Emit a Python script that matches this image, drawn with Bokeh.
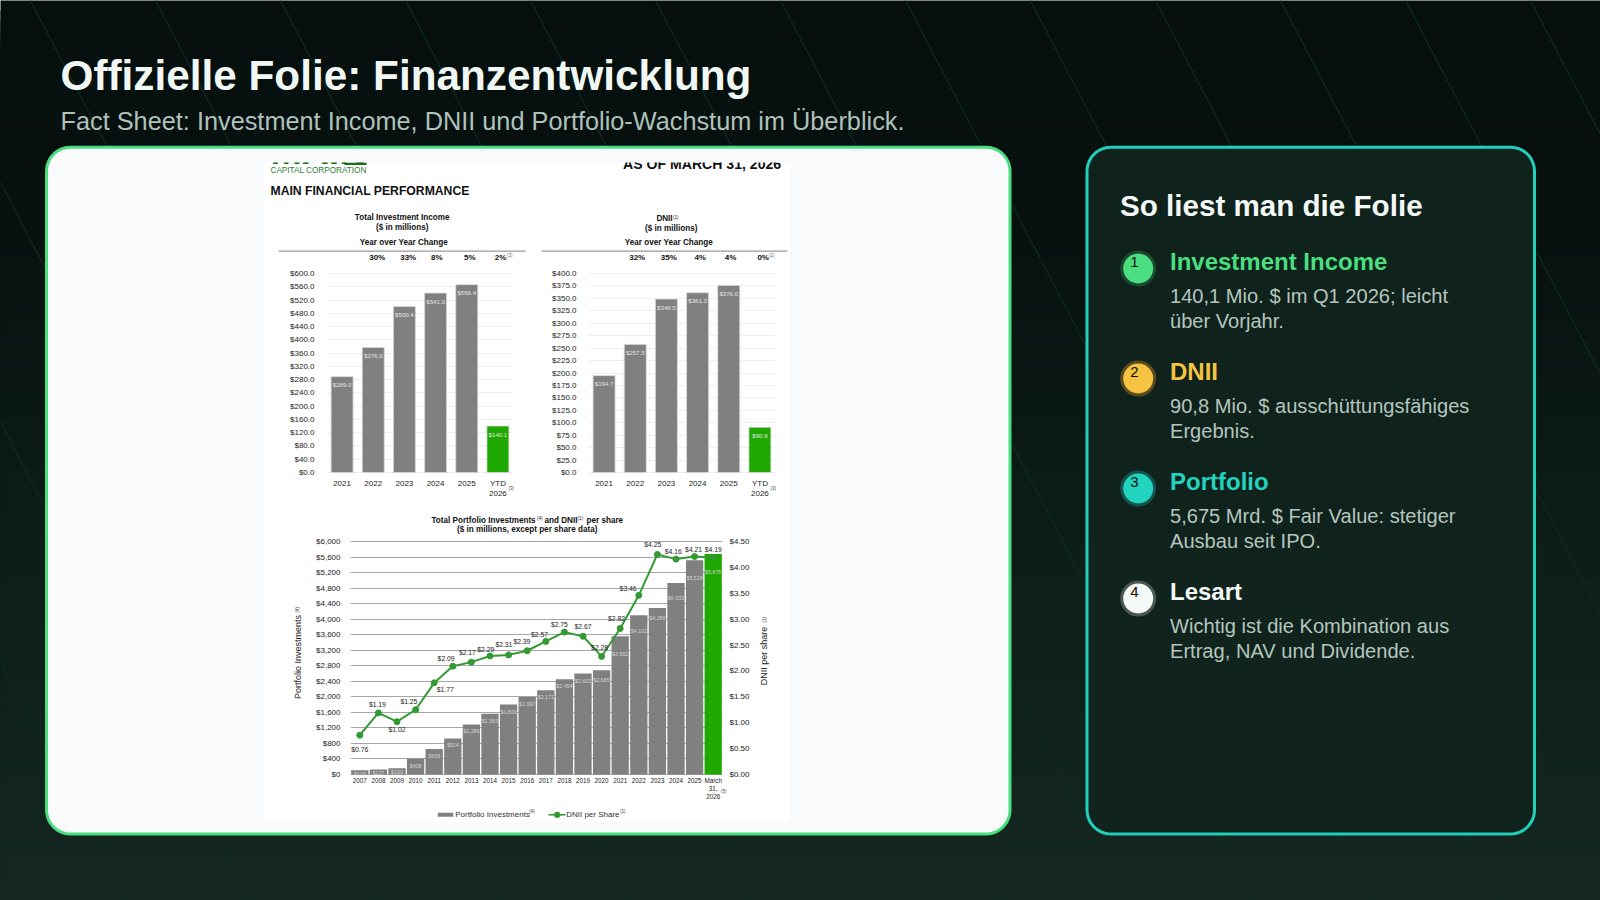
import math
import numpy as np
from bokeh.plotting import figure
from bokeh.layouts import column
from bokeh.models import Range1d, FactorRange, LinearAxis, FixedTicker, NumeralTickFormatter
from bokeh.core.properties import value
from bokeh.embed import file_html
from bokeh.resources import INLINE

FONT = "Liberation Sans"

# ---------- data ----------
years_income = ["2021", "2022", "2023", "2024", "2025", "YTD\n2026"]
income = [289.0, 376.9, 500.4, 541.0, 566.4, 140.1]
income_labels = ["$289.0", "$376.9", "$500.4", "$541.0", "$566.4", "$140.1"]
income_yoy = ["30%", "33%", "8%", "5%", "2%"]
income_ticks = list(range(0, 601, 40))

dnii = [194.7, 257.5, 348.5, 361.3, 376.0, 90.8]
dnii_labels = ["$194.7", "$257.5", "$348.5", "$361.3", "$376.0", "$90.8"]
dnii_yoy = ["32%", "35%", "4%", "4%", "0%"]
dnii_ticks = list(range(0, 401, 25))

years_port = ["2007", "2008", "2009", "2010", "2011", "2012", "2013", "2014", "2015", "2016",
              "2017", "2018", "2019", "2020", "2021", "2022", "2023", "2024", "2025", "March\n31,\n2026"]
portfolio = [109, 127, 159, 408, 658, 924, 1286, 1563, 1800, 1997,
             2171, 2454, 2602, 2685, 3562, 4102, 4286, 4933, 5518, 5675]
portfolio_labels = ["$109", "$127", "$159", "$408", "$658", "$924", "$1,286", "$1,563", "$1,800", "$1,997",
                    "$2,171", "$2,454", "$2,602", "$2,685", "$3,562", "$4,102", "$4,286", "$4,933", "$5,518", "$5,675"]
dnii_share = [0.76, 1.19, 1.02, 1.25, 1.77, 2.09, 2.17, 2.29, 2.31, 2.39,
              2.57, 2.75, 2.67, 2.28, 2.82, 3.46, 4.25, 4.16, 4.21, 4.19]
dnii_share_labels = ["$0.76", "$1.19", "$1.02", "$1.25", "$1.77", "$2.09", "$2.17", "$2.29", "$2.31", "$2.39",
                     "$2.57", "$2.75", "$2.67", "$2.28", "$2.82", "$3.46", "$4.25", "$4.16", "$4.21", "$4.19"]
portfolio_ticks = list(range(0, 6001, 400))
share_ticks = [0, 0.5, 1, 1.5, 2, 2.5, 3, 3.5, 4, 4.5]

# label nudges in screen pixels
share_dx = [0, -1, 0, -6.7, 11, -6.7, -4, -4.3, -4.7, -5.3, -6.3, -5, 0, -2, -3.7, -10.7, -4.7, -2.7, -1, 0]
share_dy = [14, -8.7, 8.3, -8.7, 6.3, -8, -9.7, -6.3, -10, -9.3, -6.7, -7.3, -9.7, -9, -10, -6.7, -10.3, -7.3, -7.3, -7.7]
port_dy = [4, 3, 4, 7, 6.7, 6.7, 6.7, 7, 7, 7.3, 7.3, 6.7, 7.7, 9.7, 18, 16, 10, 15, 18, 18]

slide_title = "Offizielle Folie: Finanzentwicklung"
slide_sub = "Fact Sheet: Investment Income, DNII und Portfolio-Wachstum im Überblick."
panel_title = "So liest man die Folie"
panel_heads = ["Investment Income", "DNII", "Portfolio", "Lesart"]
panel_nums = ["1", "2", "3", "4"]
panel_lines = [["140,1 Mio. $ im Q1 2026; leicht", "über Vorjahr."],
               ["90,8 Mio. $ ausschüttungsfähiges", "Ergebnis."],
               ["5,675 Mrd. $ Fair Value: stetiger", "Ausbau seit IPO."],
               ["Wichtig ist die Kombination aus", "Ertrag, NAV und Dividende."]]
panel_colors = ["#4ade80", "#f5c242", "#22d3c0", "#f4f8f6"]
panel_rings = ["#1c4a30", "#5a4a20", "#14544c", "#4c5754"]

GREY = "#808080"
GREEN = "#1fa900"
LINE = "#339933"
PAD_TOP, PAD_BOT = 3, 1


def blank(width, height, xr, yr):
    f = figure(width=width, height=height, x_range=xr, y_range=yr, output_backend="svg",
               toolbar_location=None, min_border=0, x_axis_type=None, y_axis_type=None, frame_align=False)
    f.grid.visible = False
    f.outline_line_color = None
    f.background_fill_color = None
    f.border_fill_color = None
    return f


def txt(f, x, y, s, size, color, style="normal", align="left", base="alphabetic", angle=0):
    f.text(x=[x], y=[y], text=[s], text_font=value(FONT), text_font_size=f"{size}px", text_color=color,
           text_font_style=style, text_align=align, text_baseline=base, angle=angle)


def rounded(f, x0, y0, x1, y1, r, **kw):
    t = np.linspace(0, math.pi / 2, 12)
    xs = np.concatenate([x1 - r + r * np.sin(t), x1 - r + r * np.cos(t), x0 + r - r * np.sin(t), x0 + r - r * np.cos(t)])
    ys = np.concatenate([y0 + r - r * np.cos(t), y1 - r + r * np.sin(t), y1 - r + r * np.cos(t), y0 + r - r * np.sin(t)])
    f.patch(xs.tolist(), ys.tolist(), **kw)


# ---------- slide ----------
bg = blank(1600, 900, Range1d(0, 1600), Range1d(900, 0))
band_edges = np.arange(0, 900, 10)
grad_pos = [0, 225, 450, 900]
band_cols = ["#%02x%02x%02x" % (round(np.interp(v, grad_pos, [6, 7, 11, 20])),
                                round(np.interp(v, grad_pos, [15, 17, 26, 39])),
                                round(np.interp(v, grad_pos, [14, 15, 21, 32]))) for v in band_edges]
band_tops = band_edges.tolist()
band_tops[0] = -10
# each band runs on to the foot of the slide, so no seam shows between neighbours
bg.quad(left=-10, right=1610, top=band_tops, bottom=910, fill_color=band_cols, line_color=None)
sx = [30 + 125 * k for k in range(-4, 13)]
bg.segment(x0=sx, y0=[0] * len(sx), x1=[v + 900 * 0.522 for v in sx], y1=[900] * len(sx),
           line_color="#0e2c1f", line_width=1.2)
txt(bg, 60, 75.2, slide_title, 42.3, "#f1f8f4", "bold")
txt(bg, 60, 120.3, slide_sub, 25.3, "#aec2bb")
rounded(bg, 46, 146.7, 1009.5, 833.5, 24, fill_color="#f8fafb", line_color="#4ade80", line_width=3)
rounded(bg, 1086.5, 146.7, 1534, 833.5, 24, fill_color="#11231d", fill_alpha=0.97, line_color="#20d0ba", line_width=3)
txt(bg, 1119.5, 205, panel_title, 29.6, "#f4f8f6", "bold")
for i in range(4):
    oy = 110 * i
    bg.scatter(x=[1137.7], y=[268 + oy], size=33, fill_color=panel_colors[i], line_color=panel_rings[i], line_width=3)
    txt(bg, 1134, 261.5 + oy, panel_nums[i], 15, "#0b0f0e", align="center", base="middle")
    txt(bg, 1169.5, 261 + oy, panel_heads[i], 24, panel_colors[i], "bold")
    txt(bg, 1169.5, 295.4 + oy, panel_lines[i][0], 20.1, "#b4c6bf")
    txt(bg, 1169.5, 320 + oy, panel_lines[i][1], 20.1, "#b4c6bf")

# ---------- fact sheet page ----------
PX0, PX1, PY0, PY1 = 263, 790, 162, 822


def placed(f, left, top):
    f.styles = {"position": "absolute", "left": f"{left}px", "top": f"{top}px"}
    return f


page = placed(blank(PX1 - PX0, PY1 - PY0, Range1d(PX0, PX1), Range1d(PY1, PY0)), PX0, PY0)
page.background_fill_color = "#ffffff"
DK = "#111111"
txt(page, 270, 150, "MAIN", 37.5, "#1e6b1e", "bold")
page.quad(left=[344], right=[366], top=[162], bottom=[164.5], fill_color="#1e6b1e", line_color=None)
txt(page, 270, 170, "CAPITAL CORPORATION", 8.2, "#2e7d32", base="middle")
txt(page, 780.7, 163.7, "AS OF MARCH 31, 2026", 14.1, DK, "bold", align="right")
txt(page, 270, 190, "MAIN FINANCIAL PERFORMANCE", 12.2, DK, "bold", base="middle")

H = 8.15
txt(page, 401.7, 216.7, "Total Investment Income", H, DK, "bold", "center", "middle")
txt(page, 401.7, 226.7, "($ in millions)", H, DK, "bold", "center", "middle")
txt(page, 403.3, 242.3, "Year over Year Change", H, DK, "bold", "center", "middle")
page.segment(x0=[278, 541], y0=[250.7, 250.7], x1=[525, 786.7], y1=[250.7, 250.7], line_color="#9a9a9a", line_width=1.3)
for xp, s in zip([376.7, 407.7, 436.3, 469.3, 500], income_yoy):
    txt(page, xp, 256.7, s, 8, DK, "bold", "center", "middle")
txt(page, 506.5, 255, "(2)", 4.5, "#666666", base="middle")

txt(page, 664, 218, "DNII", H, DK, "bold", "center", "middle")
txt(page, 672.5, 216.5, "(1)", 4.5, DK, base="middle")
txt(page, 670.7, 228, "($ in millions)", H, DK, "bold", "center", "middle")
txt(page, 668.3, 242.3, "Year over Year Change", H, DK, "bold", "center", "middle")
for xp, s in zip([636.7, 668.3, 699.7, 730, 762.7], dnii_yoy):
    txt(page, xp, 256.7, s, 8, DK, "bold", "center", "middle")
txt(page, 768.5, 255, "(2)", 4.5, "#666666", base="middle")
txt(page, 508, 488.3, "(3)", 4.5, "#444444", base="middle")
txt(page, 770, 488.3, "(3)", 4.5, "#444444", base="middle")

txt(page, 431, 519.7, "Total Portfolio Investments", H, DK, "bold", base="middle")
txt(page, 536.5, 518, "(4)", 4.5, DK, base="middle")
txt(page, 544, 519.7, "and DNII", H, DK, "bold", base="middle")
txt(page, 577, 518, "(1)", 4.5, DK, base="middle")
txt(page, 586, 519.7, "per share", H, DK, "bold", base="middle")
txt(page, 526.7, 529.3, "($ in millions, except per share data)", H, DK, "bold", "center", "middle")
txt(page, 297.3, 612, "(4)", 4.5, "#444444", angle=math.pi / 2, base="middle")
txt(page, 763.5, 655.5, "DNII per share", 9, "#222222", align="center", base="middle", angle=math.pi / 2)
txt(page, 763.5, 622, "(1)", 4.5, "#444444", angle=math.pi / 2, base="middle")
txt(page, 720.5, 791, "(5)", 4.5, "#444444", base="middle")

page.quad(left=[437.3], right=[452.7], top=[812.3], bottom=[816.3], fill_color=GREY, line_color=None)
txt(page, 454.7, 814.3, "Portfolio Investments", 8, "#333333", base="middle")
txt(page, 528.7, 811, "(4)", 4.5, "#333333", base="middle")
page.segment(x0=[548], y0=[814.3], x1=[565], y1=[814.3], line_color=LINE, line_width=1.6)
page.scatter(x=[556.7], y=[814.3], size=5.5, fill_color=LINE, line_color=LINE)
txt(page, 565.7, 814.3, "DNII per Share", 8, "#333333", base="middle")
txt(page, 619.5, 811, "(1)", 4.5, "#333333", base="middle")


# ---------- bar charts ----------
def padded(top_value, px_height):
    per_px = top_value / px_height
    return Range1d(-PAD_BOT * per_px, top_value + PAD_TOP * per_px)


def bar_chart(x0, x1, y_top, y_bot, ymax, ticks, cats, vals, labels, fmt):
    L, R, T, B = 60, 6, 4, 32
    w = round(x1 - x0)
    h = round(y_bot - y_top)
    f = placed(figure(width=w + L + R, height=h + PAD_TOP + PAD_BOT + T + B, x_range=FactorRange(factors=cats),
                      y_range=padded(ymax, h), output_backend="svg", toolbar_location=None, frame_align=False,
                      min_border_left=L, min_border_right=R, min_border_top=T, min_border_bottom=B),
               x0 - L, y_top - T - PAD_TOP)
    f.outline_line_color = None
    f.background_fill_color = None
    f.border_fill_color = None
    f.xgrid.visible = False
    f.ygrid.ticker = FixedTicker(ticks=ticks)
    f.ygrid.grid_line_color = "#eeeeee"
    f.ygrid.grid_line_width = 1.2
    f.yaxis.ticker = FixedTicker(ticks=ticks)
    f.yaxis.formatter = NumeralTickFormatter(format=fmt)
    for ax in (f.xaxis[0], f.yaxis[0]):
        ax.axis_line_color = None
        ax.major_tick_line_color = None
        ax.minor_tick_line_color = None
        ax.major_tick_out = 0
        ax.major_tick_in = 0
        ax.major_label_text_font = FONT
        ax.major_label_text_font_size = "8px"
        ax.major_label_text_color = "#222222"
    f.yaxis.major_label_standoff = 12
    f.xaxis.major_label_standoff = 5
    colors = [GREY] * 5 + [GREEN]
    f.vbar(x=cats, top=vals, width=0.705, fill_color=colors, line_color="#d8d8d8", line_width=0.8)
    f.text(x=cats, y=vals, text=labels, text_font=value(FONT), text_font_size="6.1px", text_color="#e4e4e4",
           text_align="center", text_baseline="middle", y_offset=8)
    return f


c1 = bar_chart(326, 513, 272.7, 471.7, 600, income_ticks, years_income, income, income_labels, "$0.0")
c2 = bar_chart(588.3, 775.7, 272.7, 471.7, 400, dnii_ticks, years_income, dnii, dnii_labels, "$0.0")

# ---------- portfolio chart ----------
L3, R3, T3, B3 = 64, 64, 4, 40
c3 = placed(figure(width=372 + L3 + R3, height=233 + PAD_TOP + PAD_BOT + T3 + B3, x_range=FactorRange(factors=years_port),
                   y_range=padded(6000, 233), output_backend="svg", toolbar_location=None, frame_align=False,
                   min_border_left=L3, min_border_right=R3, min_border_top=T3, min_border_bottom=B3),
            349.5 - L3, 540.5 - T3 - PAD_TOP)
c3.outline_line_color = None
c3.background_fill_color = None
c3.border_fill_color = None
c3.extra_y_ranges = {"share": padded(4.5, 233)}
c3.xgrid.visible = False
c3.ygrid.ticker = FixedTicker(ticks=portfolio_ticks)
c3.ygrid.grid_line_color = "#a6a6a6"
c3.ygrid.grid_line_width = 1
c3.yaxis.ticker = FixedTicker(ticks=portfolio_ticks)
c3.yaxis.formatter = NumeralTickFormatter(format="$0,0")
c3.yaxis.axis_label = "Portfolio Investments"
c3.yaxis.axis_label_standoff = 10
right = LinearAxis(y_range_name="share", ticker=FixedTicker(ticks=share_ticks),
                   formatter=NumeralTickFormatter(format="$0.00"))
c3.add_layout(right, "right")
for ax in (c3.xaxis[0], c3.yaxis[0], right):
    ax.axis_line_color = None
    ax.major_tick_line_color = None
    ax.minor_tick_line_color = None
    ax.major_tick_out = 0
    ax.major_tick_in = 0
    ax.major_label_text_font = FONT
    ax.major_label_text_font_size = "8px"
    ax.major_label_text_color = "#222222"
    ax.axis_label_text_font = FONT
    ax.axis_label_text_font_size = "9px"
    ax.axis_label_text_font_style = "normal"
    ax.axis_label_text_color = "#222222"
c3.yaxis.major_label_standoff = 10
right.major_label_standoff = 7
c3.xaxis.major_label_text_font_size = "6.3px"
c3.xaxis.major_label_standoff = 1
bar_colors = [GREY] * 19 + [GREEN]
c3.vbar(x=years_port, top=portfolio, width=0.93, fill_color=bar_colors, line_color=None)
c3.text(x=years_port, y=portfolio, text=portfolio_labels, text_font=value(FONT), text_font_size="5.3px",
        text_color="#d4d4d4", text_align="center", text_baseline="middle", y_offset=port_dy)
c3.line(x=years_port, y=dnii_share, y_range_name="share", line_color=LINE, line_width=2)
c3.scatter(x=years_port, y=dnii_share, y_range_name="share", size=6, fill_color=LINE, line_color=LINE)
c3.text(x=years_port, y=dnii_share, y_range_name="share", text=dnii_share_labels, text_font=value(FONT),
        text_font_size="6.8px", text_color="#222222", text_align="center", text_baseline="middle",
        x_offset=share_dx, y_offset=share_dy)

root = column(bg, page, c1, c2, c3, styles={"position": "relative"}, spacing=0)

open("out.html", "w").write(file_html(root, INLINE))
